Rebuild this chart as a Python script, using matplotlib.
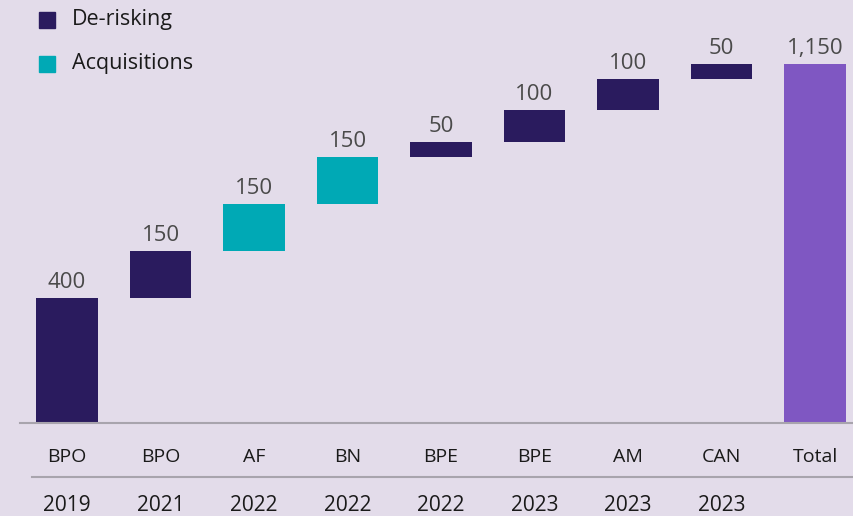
import matplotlib.pyplot as plt
from matplotlib.patches import Rectangle

categories = ["BPO", "BPO", "AF", "BN", "BPE", "BPE", "AM", "CAN", "Total"]
years = ["2019", "2021", "2022", "2022", "2022", "2023", "2023", "2023", ""]
values = [400, 150, 150, 150, 50, 100, 100, 50]
kinds = ["De-risking", "De-risking", "Acquisitions", "Acquisitions",
         "De-risking", "De-risking", "De-risking", "De-risking"]
total = 1150

colors = {"De-risking": "#2a1b5e", "Acquisitions": "#00a9b5"}
total_color = "#7f57c2"
bg = "#e3dcea"

plt.rcParams["font.family"] = ["Open Sans", "DejaVu Sans"]

fig = plt.figure(figsize=(8.54, 5.16), dpi=100, facecolor=bg)
ax = fig.add_axes([0, 0, 1, 1])
ax.set_facecolor(bg)
ax.set_xlim(-0.717, 8.417)
ax.set_ylim(-297.6, 1353.6)
ax.axis("off")

bw = 0.66
bottom = 0
for i, (v, k) in enumerate(zip(values, kinds)):
    ax.bar(i, v, bottom=bottom, width=bw, color=colors[k])
    ax.text(i, bottom + v + 16, f"{v:,}", ha="center", va="bottom",
            fontsize=16, color="#4a4a4a")
    bottom += v

n = len(values)
ax.bar(n, total, width=bw, color=total_color)
ax.text(n, total + 16, f"{total:,}", ha="center", va="bottom",
        fontsize=16, color="#4a4a4a")

# axis and separator lines
ax.axhline(0, xmin=20 / 854, xmax=1, color="#a8a4ad", lw=1.5)
ax.axhline(-172.8, xmin=32 / 854, xmax=1, color="#a8a4ad", lw=1.5)

for i, (c, y) in enumerate(zip(categories, years)):
    ax.text(i, -108.8, c, ha="center", va="center", fontsize=14, color="#1a1a1a")
    if y:
        ax.text(i, -264, y, ha="center", va="center", fontsize=15, color="#1a1a1a")

# legend
for j, k in enumerate(["De-risking", "Acquisitions"]):
    ypx = 20 + j * 44
    fig.patches.append(Rectangle((39 / 854, 1 - (ypx + 8) / 516), 16 / 854, 16 / 516,
                                 transform=fig.transFigure, color=colors[k]))
    fig.text(72 / 854, 1 - ypx / 516, k, ha="left", va="center",
             fontsize=15.5, color="#1a1a1a")

fig.savefig("out.png", dpi=100, facecolor=bg)
